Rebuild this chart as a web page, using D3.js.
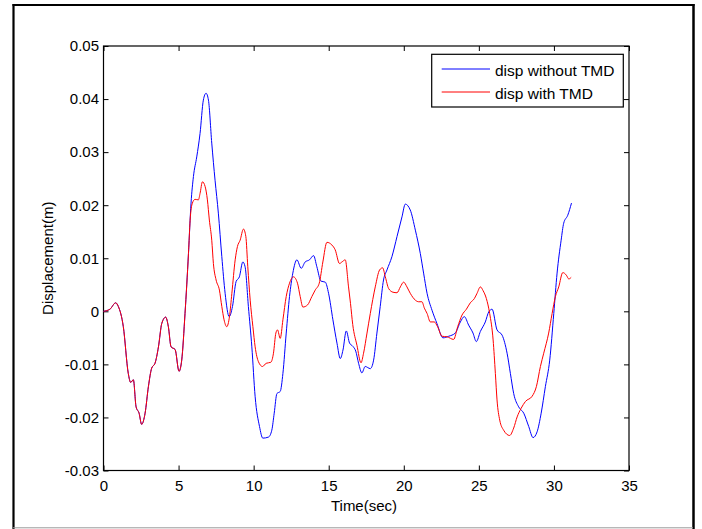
<!DOCTYPE html>
<html>
<head>
<meta charset="utf-8">
<script src="https://cdn.jsdelivr.net/npm/d3@7.9.0/dist/d3.min.js"></script>
<style>
  body { margin: 0; background: #fff; }
  svg { display: block; font-family: "Liberation Sans", Arial, sans-serif; }
</style>
</head>
<body>
<svg id="chart" width="702" height="529"></svg>
<script>
// ---- data ----
const xTicks = [0, 5, 10, 15, 20, 25, 30, 35];
const yTicks = [-0.03, -0.02, -0.01, 0, 0.01, 0.02, 0.03, 0.04, 0.05];
const seriesNames = ['disp without TMD', 'disp with TMD'];

// both curves coincide up to ~5.7 s
const commonTime = [0, 0.43, 0.81, 0.99, 1.32, 1.65, 1.81, 1.99, 2.17, 2.37, 2.54, 2.77, 2.99,
  3.21, 3.43, 3.66, 3.88, 4.14, 4.32, 4.5, 4.77, 5.03, 5.21, 5.43, 5.66];
const commonDisp = [0, 0.0004, 0.0016, 0.0009, -0.0029, -0.0117, -0.0134, -0.0129, -0.018, -0.0192,
  -0.0213, -0.0192, -0.0142, -0.0107, -0.0098, -0.0067, -0.0023, -0.0011, -0.0029, -0.0067,
  -0.0072, -0.0113, -0.0092, -0.0004, 0.0109];

const noTmdTime = [5.83, 5.99, 6.21, 6.43, 6.65, 6.83, 6.99, 7.21, 7.43, 7.65, 7.88, 8.1, 8.37,
  8.59, 8.83, 9.05, 9.28, 9.43, 9.65, 9.88, 10.1, 10.39, 10.61, 10.99, 11.21, 11.37, 11.55,
  11.77, 11.95, 12.17, 12.39, 12.61, 12.88, 13.17, 13.43, 13.72, 13.99, 14.21, 14.48, 14.77,
  14.99, 15.28, 15.55, 15.77, 15.95, 16.17, 16.39, 16.61, 16.8, 16.99, 17.21, 17.43, 17.77,
  17.99, 18.21, 18.43, 18.65, 18.88, 19.21, 19.55, 19.88, 20.1, 20.43, 20.77, 21.1, 21.32,
  21.55, 21.88, 22.21, 22.61, 22.99, 23.43, 23.77, 24.03, 24.32, 24.61, 24.83, 25.1, 25.43,
  25.66, 25.88, 26.21, 26.55, 26.88, 27.1, 27.32, 27.65, 27.99, 28.32, 28.61, 28.88, 29.15,
  29.43, 29.72, 29.99, 30.21, 30.48, 30.65, 30.92, 31.17];
const noTmdDisp = [0.0204, 0.0254, 0.0291, 0.0335, 0.0398, 0.0411, 0.0398, 0.0317, 0.0247, 0.0185,
  0.0103, 0.0034, -0.001, 0.0009, 0.0056, 0.0065, 0.0093, 0.0084, 0.0009, -0.0067, -0.0161,
  -0.0217, -0.0239, -0.0237, -0.0224, -0.0192, -0.0155, -0.0151, -0.0117, -0.0041, 0.0028,
  0.0072, 0.0097, 0.0081, 0.0093, 0.0097, 0.0105, 0.0084, 0.0057, 0.0055, 0.0034, -0.0016,
  -0.006, -0.0089, -0.0073, -0.0037, -0.006, -0.0066, -0.0075, -0.0098, -0.0116, -0.0104,
  -0.0108, -0.0092, -0.0041, 0.0009, 0.0059, 0.0078, 0.0103, 0.0141, 0.0178, 0.0202, 0.0191,
  0.0153, 0.0109, 0.0072, 0.0034, 0.0002, -0.0023, -0.005, -0.0047, -0.0041, -0.002, -0.001,
  -0.0026, -0.0041, -0.0057, -0.0038, -0.002, -0.0001, 0.0004, -0.0035, -0.0045, -0.0079,
  -0.0117, -0.0155, -0.018, -0.0192, -0.0217, -0.0238, -0.0227, -0.0192, -0.0142, -0.0092,
  -0.0004, 0.0072, 0.0134, 0.0166, 0.0181, 0.0204];

const tmdTime = [5.77, 5.92, 6.1, 6.32, 6.43, 6.59, 6.77, 6.92, 7.05, 7.21, 7.32, 7.5, 7.72, 7.88,
  8.03, 8.21, 8.39, 8.55, 8.77, 8.92, 9.1, 9.32, 9.48, 9.61, 9.77, 9.95, 10.1, 10.32, 10.59,
  10.83, 11.15, 11.32, 11.48, 11.59, 11.77, 11.95, 12.17, 12.39, 12.65, 12.92, 13.1, 13.28,
  13.59, 13.88, 14.1, 14.37, 14.61, 14.88, 15.21, 15.43, 15.72, 15.88, 16.1, 16.32, 16.45,
  16.6, 16.88, 17.15, 17.32, 17.55, 17.77, 18.1, 18.39, 18.59, 18.77, 18.99, 19.28, 19.55,
  19.77, 19.99, 20.21, 20.43, 20.77, 20.99, 21.21, 21.37, 21.55, 21.77, 22.03, 22.25, 22.55,
  22.88, 23.32, 23.59, 23.88, 24.17, 24.43, 24.7, 24.88, 25.1, 25.28, 25.5, 25.72, 25.95,
  26.1, 26.21, 26.39, 26.65, 27.05, 27.32, 27.55, 27.81, 28.1, 28.55, 28.83, 29.1, 29.32,
  29.65, 29.88, 30.1, 30.32, 30.59, 30.83, 30.99, 31.15];
const tmdDisp = [0.0172, 0.0204, 0.0211, 0.021, 0.0222, 0.0244, 0.0235, 0.021, 0.0172, 0.0134,
  0.009, 0.0059, 0.004, 0.0009, -0.0016, -0.0029, -0.001, 0.0034, 0.0097, 0.0122, 0.0134,
  0.0155, 0.0141, 0.0084, 0.0021, -0.0029, -0.0067, -0.0095, -0.0104, -0.0098, -0.0096,
  -0.0079, -0.0041, -0.0035, -0.0051, -0.0016, 0.0028, 0.0053, 0.0065, 0.0053, 0.0028,
  0.0008, 0.0012, 0.0028, 0.004, 0.0053, 0.0093, 0.013, 0.0125, 0.0116, 0.009, 0.0093,
  0.0097, 0.0046, 0.0015, -0.0025, -0.0064, -0.0097, -0.0079, -0.0041, -0.0004, 0.0046,
  0.0078, 0.0082, 0.0065, 0.0043, 0.0036, 0.0035, 0.0046, 0.0055, 0.0046, 0.0034, 0.0021,
  0.0018, 0.0018, 0.0006, -0.0004, -0.002, -0.002, -0.0029, -0.0047, -0.0048, -0.0053,
  -0.0029, -0.0007, 0.0004, 0.0016, 0.0024, 0.0034, 0.0046, 0.0039, 0.0024, -0.0004,
  -0.0054, -0.0117, -0.0167, -0.0205, -0.0224, -0.0234, -0.022, -0.0199, -0.0183, -0.017,
  -0.016, -0.0142, -0.0104, -0.0079, -0.0041, -0.0004, 0.0028, 0.0046, 0.0073, 0.0068,
  0.0061, 0.0064];

const seriesColors = ['#0000ff', '#ff0000'];

// ---- layout ----
const W = 702, H = 529;
const plot = { left: 103.5, right: 629, top: 46, bottom: 470.5 };

const svg = d3.select('#chart');

const x = d3.scaleLinear().domain([0, 35]).range([plot.left, plot.right]);
const y = d3.scaleLinear().domain([-0.03, 0.05]).range([plot.bottom, plot.top]);

// outer figure frame
svg.append('line').attr('x1', 13.5).attr('x2', 13.5).attr('y1', 4).attr('y2', 529)
  .attr('stroke', '#000').attr('stroke-width', 2.2);
svg.append('line').attr('x1', 12.5).attr('x2', 694.5).attr('y1', 5).attr('y2', 5)
  .attr('stroke', '#000').attr('stroke-width', 2.2);
svg.append('line').attr('x1', 693.5).attr('x2', 693.5).attr('y1', 4).attr('y2', 529)
  .attr('stroke', '#000').attr('stroke-width', 2.5);
svg.append('line').attr('x1', 13).attr('x2', 693).attr('y1', 527.8).attr('y2', 527.8)
  .attr('stroke', '#999').attr('stroke-width', 1);

const fmtY = (d) => (Math.abs(d) < 1e-9 ? '0' : d.toFixed(2));

function styleAxis(g) {
  g.select('.domain').remove();
  g.selectAll('.tick line').attr('stroke', '#000').attr('stroke-width', 1);
  g.selectAll('.tick text').attr('fill', '#000').style('font-size', '15px')
    .style('font-family', '"Liberation Sans", Arial, sans-serif');
}

svg.append('g')
  .attr('transform', `translate(0,${plot.bottom})`)
  .call(d3.axisBottom(x).tickValues(xTicks).tickSizeInner(-5).tickSizeOuter(0).tickPadding(9.5))
  .call(styleAxis);

svg.append('g')
  .attr('transform', `translate(0,${plot.top})`)
  .call(d3.axisTop(x).tickValues(xTicks).tickSizeInner(-5).tickSizeOuter(0).tickFormat(''))
  .call(styleAxis);

svg.append('g')
  .attr('transform', `translate(${plot.left},0)`)
  .call(d3.axisLeft(y).tickValues(yTicks).tickSizeInner(-5).tickSizeOuter(0).tickPadding(4.5).tickFormat(fmtY))
  .call(styleAxis);

svg.append('g')
  .attr('transform', `translate(${plot.right},0)`)
  .call(d3.axisRight(y).tickValues(yTicks).tickSizeInner(-5).tickSizeOuter(0).tickFormat(''))
  .call(styleAxis);

// plot box
svg.append('rect')
  .attr('x', plot.left).attr('y', plot.top)
  .attr('width', plot.right - plot.left).attr('height', plot.bottom - plot.top)
  .attr('fill', 'none').attr('stroke', '#000').attr('stroke-width', 1.2);

// ---- curves ----
const zip = (ts, ds) => ts.map((t, i) => [t, ds[i]]);
const series = [
  zip(commonTime.concat(noTmdTime), commonDisp.concat(noTmdDisp)),
  zip(commonTime.concat(tmdTime), commonDisp.concat(tmdDisp)),
];

const line = d3.line()
  .x((d) => x(d[0]))
  .y((d) => y(d[1]))
  .curve(d3.curveMonotoneX);

svg.append('g')
  .selectAll('path')
  .data(series)
  .join('path')
  .attr('d', line)
  .attr('fill', 'none')
  .attr('stroke', (d, i) => seriesColors[i])
  .attr('stroke-width', 1);

// ---- axis labels ----
svg.append('text')
  .attr('x', 364).attr('y', 511)
  .attr('text-anchor', 'middle')
  .style('font-size', '15px')
  .text('Time(sec)');

svg.append('text')
  .attr('transform', `translate(53,${(plot.top + plot.bottom) / 2}) rotate(-90)`)
  .attr('text-anchor', 'middle')
  .style('font-size', '15px')
  .text('Displacement(m)');

// ---- legend ----
const legend = svg.append('g');
legend.append('rect')
  .attr('x', 431.7).attr('y', 54.3).attr('width', 191.6).attr('height', 52.7)
  .attr('fill', '#fff').attr('stroke', '#000').attr('stroke-width', 1.2);

const legendRows = [69, 92];
seriesNames.forEach((name, i) => {
  legend.append('line')
    .attr('x1', 441.7).attr('x2', 490)
    .attr('y1', legendRows[i]).attr('y2', legendRows[i])
    .attr('stroke', seriesColors[i]).attr('stroke-width', 1);
  legend.append('text')
    .attr('x', 495).attr('y', legendRows[i] + 6.5)
    .style('font-size', '15.5px')
    .text(name);
});
</script>
</body>
</html>
